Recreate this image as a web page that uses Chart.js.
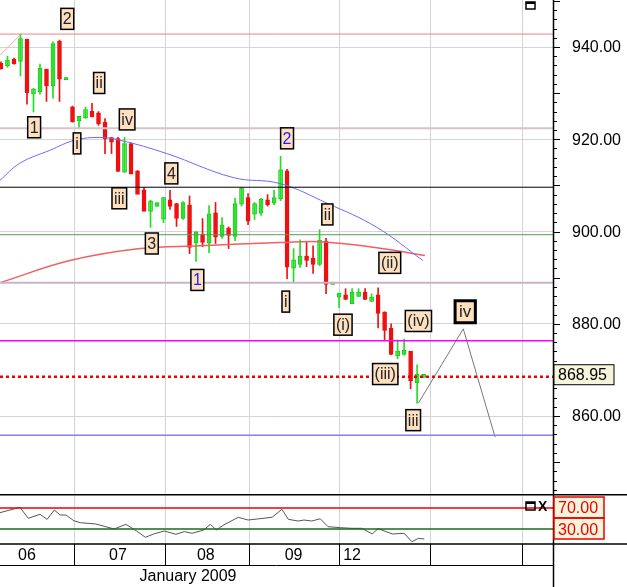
<!DOCTYPE html>
<html><head><meta charset="utf-8">
<script src="https://cdn.jsdelivr.net/npm/chart.js@4"></script>
<style>
html,body{margin:0;padding:0;background:#fff;width:627px;height:587px;overflow:hidden}
#w1{position:absolute;left:0;top:0;width:627px;height:494px}
#w2{position:absolute;left:0;top:494px;width:627px;height:93px}
</style></head><body>
<div id="w1"><canvas id="c1"></canvas></div>
<div id="w2"><canvas id="c2"></canvas></div>
<script>
// ---- data ----
const opens  = [936.3,936.1,937.2,937.0,941.5,930.0,930.4,935.0,931.7,941.1,933.0,926.9,924.1,924.8,925.9,925.6,923.5,920.2,920.0,913.0,918.9,913.0,908.9,904.5,905.6,902.8,906.7,905.9,903.0,905.6,897.6,899.3,897.6,903.9,899.1,900.6,899.1,906.1,907.2,903.9,904.1,906.7,906.3,907.2,913.0,892.2,893.0,894.5,894.1,893.0,897.8,888.7,885.9,886.1,884.5,886.1,886.7,885.0,886.1,882.4,878.9,873.2,873.5,873.9,867.4,868.5];
const highs  = [936.8,938.0,937.6,942.8,941.7,931.0,936.3,935.2,941.1,941.5,933.4,927.2,924.8,927.0,927.8,926.0,924.5,920.4,920.4,920.4,919.2,913.2,909.5,906.8,906.1,907.4,908.9,906.1,906.5,907.7,900.0,902.8,905.6,906.3,903.0,901.0,907.2,909.5,908.2,906.3,907.2,908.0,908.9,916.3,913.5,896.3,898.2,897.8,896.9,900.4,898.5,889.0,886.5,887.6,887.6,887.6,887.6,886.5,887.8,882.6,880.0,876.5,876.7,874.0,871.1,869.0];
const lows   = [935.2,935.6,936.3,933.7,927.6,925.9,929.8,928.2,928.9,928.2,932.9,923.7,922.4,924.5,925.0,923.0,916.9,916.9,913.0,912.8,912.6,908.2,904.5,900.9,905.6,901.9,904.8,901.1,902.6,895.2,893.5,896.7,895.4,897.4,898.5,896.3,898.0,905.5,901.5,902.6,903.5,905.5,905.8,906.7,889.8,888.9,892.2,892.4,890.9,892.6,886.5,888.6,883.5,885.2,884.3,885.9,885.2,884.8,879.1,876.3,873.3,872.4,873.2,865.9,862.8,868.3];
const closes = [935.4,937.0,936.5,941.7,930.2,930.8,935.2,931.7,940.6,933.2,933.2,923.9,924.8,926.3,925.0,923.5,920.2,919.5,913.2,918.9,912.6,908.2,904.5,906.5,906.1,907.2,905.6,903.0,906.1,896.7,899.8,897.8,903.7,898.9,901.3,899.3,905.9,909.3,902.4,905.9,906.9,905.9,907.2,913.2,892.4,893.7,894.5,893.9,893.0,898.0,888.7,888.9,886.5,885.4,886.7,886.7,885.4,885.6,882.4,878.7,873.5,873.9,874.1,867.8,868.9,868.9];
const maBlueX = [-0.15,2.9,7.5,11.4,15.2,18.3,25.5,35.7,42.9,50.2,57.8,64.9];
const maBlueY = [911.1,914.8,917.6,919.8,920.4,919.8,916.9,911.7,910.4,906.1,900.9,893.7];
const maRedX  = [-0.15,10.6,21.4,30.6,42.9,49.1,57.8,65.2];
const maRedY  = [888.9,893.7,896.3,896.9,897.6,897.8,896.5,894.8];
const levels = [
  {v:942.8,c:'#f08080',w:1},{v:922.4,c:'#d8c4c4',w:2},{v:909.6,c:'#000000',w:1},
  {v:899.3,c:'#5a9a5a',w:1},{v:888.9,c:'#c8b4c8',w:2},{v:876.3,c:'#ff00ff',w:1.5},
  {v:855.8,c:'#8080ff',w:1.5}
];
const lastPrice = 868.95, lastLine = 868.5;
const waveX = [64.2,71.1,76.0];
const waveY = [862.8,878.9,855.4];
const labels = [
  {t:'2',x:10.2,y:946.1},{t:'ii',x:15.1,y:932.2},{t:'iv',x:19.4,y:924.3},{t:'1',x:5.1,y:922.6},
  {t:'i',x:11.7,y:919.1},{t:'4',x:26.2,y:912.6},{t:'iii',x:18.2,y:907.2},{t:'3',x:23.2,y:897.4},
  {t:'1',x:30.2,y:889.5,col:'#2020ff'},{t:'2',x:44.0,y:920.2,col:'#2020ff'},{t:'ii',x:50.2,y:903.7},
  {t:'(ii)',x:59.8,y:893.2},{t:'i',x:43.8,y:884.8},{t:'(i)',x:52.6,y:879.8},{t:'(iv)',x:64.2,y:880.6},
  {t:'iv',x:71.4,y:882.6,bold:true},{t:'(iii)',x:59.1,y:869.1},{t:'iii',x:63.4,y:859.1}
];
const priceTicks = [860,880,900,920,940];
const dayBounds = [11.2,25.2,38.2,52,66,80.2];
const dayLabels = ['06','07','08','09','12'];
const dayLabelPos = [4.0,18.0,31.5,45.0,54.0];
const monthLabel = 'January 2009';
const rsiX = [-0.15,2.9,4.2,6,7.1,8.2,9.1,10,11.2,12.2,14.6,17.4,19.2,20.8,22.2,23.5,25.1,26.9,28.2,29.4,31.2,32.2,33.1,34.3,36.5,38,39.8,41.7,43.2,44.2,45.7,46.6,47.8,49.1,50.3,52.2,54,55.5,57.1,58,60.2,62,63.2,64.2,65.1];
const rsiY = [61.1,71.3,50.4,58.0,48.4,66.2,56.7,56.7,45.8,42.0,39.5,30.0,38.9,26.8,14.2,20.5,26.2,19.9,24.9,21.8,28.1,38.9,28.1,38.0,52.3,47.1,49.6,52.3,67.5,48.4,45.2,47.1,45.2,49.6,34.4,32.5,31.3,31.3,20.5,30.7,20.5,21.8,5.8,12.2,10.9];
const rsiLevels = [70,30];

// ---- build ----
const XMIN=-0.15, XMAX=84.9;
const FONT='"Liberation Sans", Arial, sans-serif';
const up = opens.map((o,i)=>closes[i]>=o);
const idx = opens.map((_,i)=>i);
const ds = [];
levels.forEach(l=>ds.push({type:'line',data:[{x:XMIN,y:l.v},{x:XMAX,y:l.v}],borderColor:l.c,borderWidth:l.w,pointRadius:0}));
ds.push({type:'line',data:[{x:XMIN,y:lastLine},{x:XMAX,y:lastLine}],borderColor:'#ee0000',borderWidth:2.5,borderDash:[3,3],pointRadius:0});
ds.push({type:'line',data:[{x:XMIN,y:938.2},{x:3.1,y:942.8}],borderColor:'#f4a0a0',borderWidth:1,pointRadius:0});
ds.push({type:'line',data:maBlueX.map((x,i)=>({x,y:maBlueY[i]})),borderColor:'#6a6aff',borderWidth:1,pointRadius:0,tension:0.4});
ds.push({type:'line',data:maRedX.map((x,i)=>({x,y:maRedY[i]})),borderColor:'#f06060',borderWidth:1.5,pointRadius:0,tension:0.4});
ds.push({type:'bar',data:idx.map(i=>({x:i,y:[lows[i],highs[i]]})),backgroundColor:up.map(u=>u?'#22dd22':'#ee1111'),barThickness:1,grouped:false});
ds.push({type:'bar',data:idx.map(i=>({x:i,y:[Math.min(opens[i],closes[i])-0.15,Math.max(opens[i],closes[i])+0.15]})),backgroundColor:up.map(u=>u?'#66ff66':'#ee1111'),borderColor:up.map(u=>u?'#11bb11':'#ee1111'),borderWidth:1,borderSkipped:false,barThickness:4,grouped:false});
ds.push({type:'line',data:waveX.map((x,i)=>({x,y:waveY[i]})),borderColor:'#777',borderWidth:1,pointRadius:0});

function vgrid(ch){
  const ctx=ch.ctx, xs=ch.scales.x, a=ch.chartArea;
  ctx.save();ctx.strokeStyle='#d4d4d4';ctx.lineWidth=1;
  dayBounds.forEach(v=>{const x=Math.round(xs.getPixelForValue(v))+0.5;
    ctx.beginPath();ctx.moveTo(x,a.top);ctx.lineTo(x,a.bottom);ctx.stroke();});
  ctx.restore();
}
function box(ctx,text,cx,cy,opt){
  ctx.font=(opt.font||'16px '+FONT);
  const w=ctx.measureText(text).width+(opt.padX||4), h=opt.h||21;
  ctx.fillStyle=opt.fill||'#fde0c0';
  ctx.fillRect(cx-w/2,cy-h/2,w,h);
  ctx.lineWidth=opt.lw||1.5; ctx.strokeStyle=opt.stroke||'#000';
  ctx.strokeRect(cx-w/2,cy-h/2,w,h);
  ctx.fillStyle=opt.col||'#222'; ctx.textAlign='center'; ctx.textBaseline='middle';
  ctx.fillText(text,cx,cy+1);
}
const mainPlug={id:'mp',
 beforeDatasetsDraw(ch){vgrid(ch);},
 afterDatasetsDraw(ch){
  const ctx=ch.ctx, xs=ch.scales.x, ys=ch.scales.y, a=ch.chartArea;
  ctx.save();
  labels.forEach(l=>box(ctx,l.t,xs.getPixelForValue(l.x),ys.getPixelForValue(l.y),
     l.bold?{lw:3,font:'17px '+FONT,padX:8,h:22}:{col:l.col}));
  ctx.strokeStyle='#000';ctx.lineWidth=1.5;
  ctx.beginPath();ctx.moveTo(a.right+0.5,0);ctx.lineTo(a.right+0.5,ch.height);ctx.stroke();
  ctx.lineWidth=1;
  for(let v=844;v<=950;v+=2){const y=Math.round(ys.getPixelForValue(v))+0.5;
    ctx.beginPath();ctx.moveTo(a.right,y);ctx.lineTo(a.right+(v%10===0?7:4),y);ctx.stroke();}
  ctx.font='16px '+FONT;ctx.fillStyle='#000';ctx.textAlign='left';ctx.textBaseline='middle';
  priceTicks.forEach(v=>ctx.fillText(v.toFixed(2),a.right+19,ys.getPixelForValue(v)+1));
  const py=ys.getPixelForValue(lastPrice);
  ctx.fillStyle='#f5f5dc';ctx.fillRect(a.right+1,py-10,60,20);
  ctx.strokeStyle='#000';ctx.strokeRect(a.right+1,py-10,60,20);
  ctx.fillStyle='#000';
  ctx.fillText(lastPrice.toFixed(2),a.right+5,py+1);
  ctx.lineWidth=1.5;ctx.strokeRect(526,2,9,7);ctx.fillRect(526,2,9,2);
  ctx.restore();
}};
new Chart(document.getElementById('c1'),{
  data:{datasets:ds},
  options:{responsive:true,maintainAspectRatio:false,animation:false,
    layout:{padding:0},
    plugins:{legend:{display:false},tooltip:{enabled:false}},
    scales:{
      x:{type:'linear',display:false,min:XMIN,max:XMAX,offset:false},
      y:{position:'right',min:843.09,max:950.19,
        afterBuildTicks:s=>{s.ticks=priceTicks.map(v=>({value:v}));},
        afterFit:s=>{s.width=74;},
        ticks:{display:false},
        grid:{color:'#d4d4d4',drawTicks:false},border:{display:false}}
    }},
  plugins:[mainPlug]
});

const rsiPlug={id:'rp',
 beforeDatasetsDraw(ch){vgrid(ch);},
 afterDatasetsDraw(ch){
  const ctx=ch.ctx, xs=ch.scales.x, ys=ch.scales.y, a=ch.chartArea;
  ctx.save();
  ctx.strokeStyle='#000';ctx.lineWidth=1.5;
  ctx.beginPath();ctx.moveTo(0,a.top+0.75);ctx.lineTo(627,a.top+0.75);ctx.stroke();
  ctx.beginPath();ctx.moveTo(0,a.bottom);ctx.lineTo(627,a.bottom);ctx.stroke();
  ctx.beginPath();ctx.moveTo(a.right+0.5,0);ctx.lineTo(a.right+0.5,ch.height);ctx.stroke();
  ctx.lineWidth=1;
  ctx.beginPath();ctx.moveTo(0,a.bottom+21.5);ctx.lineTo(a.right,a.bottom+21.5);ctx.stroke();
  dayBounds.forEach(v=>{const x=Math.round(xs.getPixelForValue(v))+0.5;
    ctx.beginPath();ctx.moveTo(x,a.bottom);ctx.lineTo(x,a.bottom+21);ctx.stroke();});
  ctx.font='16px '+FONT;ctx.fillStyle='#000';ctx.textBaseline='middle';
  dayLabels.forEach((t,i)=>{ctx.textAlign='center';ctx.fillText(t,xs.getPixelForValue(dayLabelPos[i]),a.bottom+12);});
  ctx.textAlign='center';ctx.fillText(monthLabel,188,a.bottom+33);
  ctx.strokeStyle='#ee0000';ctx.lineWidth=1.5;
  const y70=ys.getPixelForValue(70),y30=ys.getPixelForValue(30);
  ctx.fillStyle='#f5f5dc';ctx.fillRect(a.right+1,y70-11,50,42);
  ctx.strokeRect(a.right+1,y70-11,50,21);ctx.strokeRect(a.right+1,y70+10,50,21);
  ctx.fillStyle='#ee0000';ctx.textAlign='left';
  ctx.fillText('70.00',a.right+5,y70+1);ctx.fillText('30.00',a.right+5,y30+2);
  ctx.fillStyle='#000';ctx.strokeStyle='#000';ctx.lineWidth=1.5;
  ctx.strokeRect(526,a.top+8,9,8);ctx.fillRect(526,a.top+8,9,2);
  ctx.font='bold 14px '+FONT;ctx.fillText('X',538,a.top+13);
  ctx.restore();
}};
new Chart(document.getElementById('c2'),{
  data:{datasets:[
    {type:'line',data:[{x:XMIN,y:rsiLevels[0]},{x:XMAX,y:rsiLevels[0]}],borderColor:'#ee0000',borderWidth:1.5,pointRadius:0},
    {type:'line',data:[{x:XMIN,y:rsiLevels[1]},{x:XMAX,y:rsiLevels[1]}],borderColor:'#1a6a1a',borderWidth:1.5,pointRadius:0},
    {type:'line',data:rsiX.map((x,i)=>({x,y:rsiY[i]})),borderColor:'#555',borderWidth:1,pointRadius:0}
  ]},
  options:{responsive:true,maintainAspectRatio:false,animation:false,
    layout:{padding:{top:0,bottom:43,left:0,right:0}},
    plugins:{legend:{display:false},tooltip:{enabled:false}},
    scales:{
      x:{type:'linear',display:false,min:XMIN,max:XMAX},
      y:{position:'right',min:1.4,max:96.7,afterFit:s=>{s.width=74;},
        ticks:{display:false},grid:{display:false,drawTicks:false},border:{display:false}}
    }},
  plugins:[rsiPlug]
});
</script></body></html>
